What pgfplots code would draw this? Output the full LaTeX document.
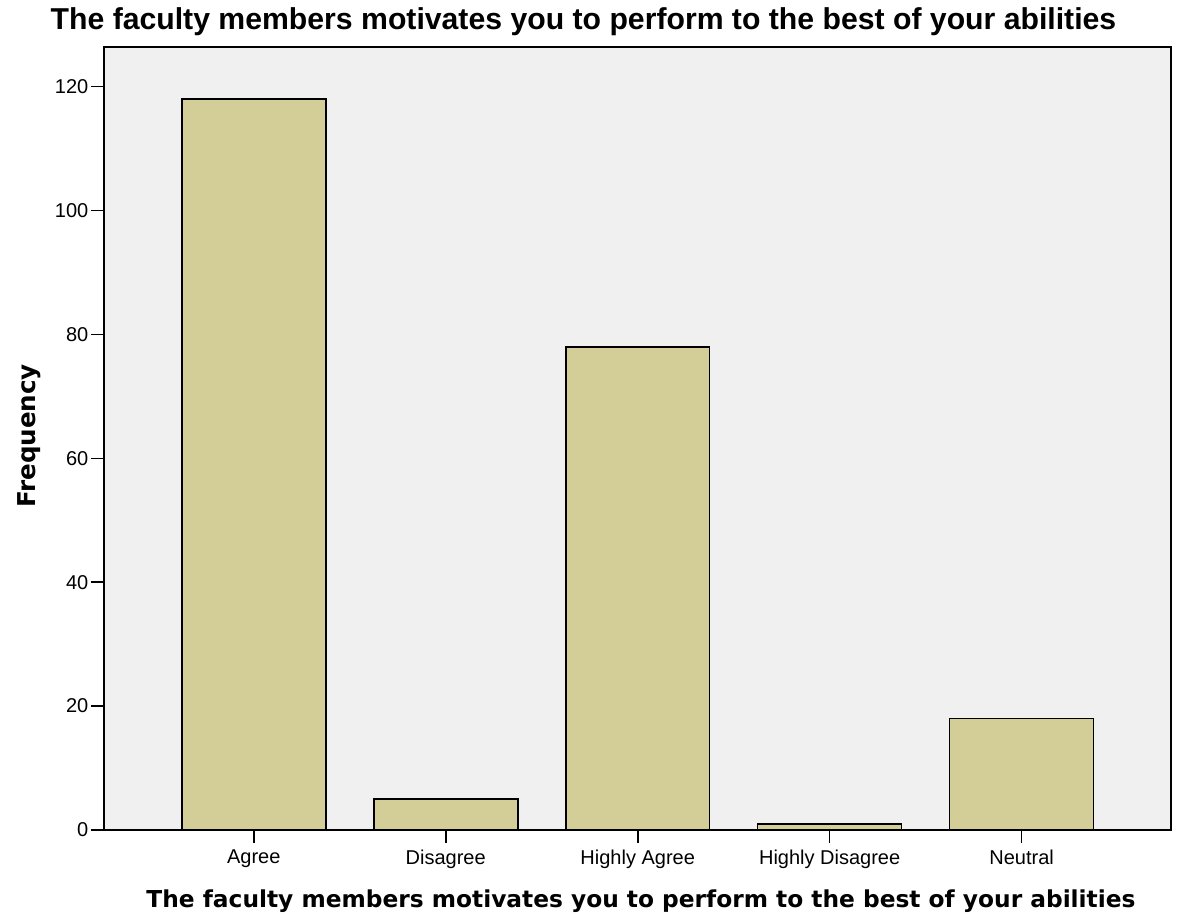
\documentclass[border=0pt]{standalone}
\usepackage{fontspec}
\setmainfont{Liberation Sans}
\newfontfamily\verd{DejaVu Sans}
\usepackage{pgfplots}
\pgfplotsset{compat=1.18}
\definecolor{barfill}{RGB}{211,206,151}
\definecolor{bg}{RGB}{240,240,240}
\begin{document}
\begin{tikzpicture}
\useasboundingbox (0pt,0pt) rectangle (589.5pt,459.5pt);
\begin{axis}[
  at={(52pt,44.5pt)}, anchor=south west,
  scale only axis, width=533.5pt, height=391.5pt,
  xmin=-0.78, xmax=4.778, ymin=0, ymax=126.4,
  xtick={0,1,2,3,4}, xticklabels={Agree,Disagree,Highly Agree,Highly Disagree,Neutral},
  ytick={0,20,...,120},
  tick style={black, line width=0.8pt},
  tick align=outside, major tick length=6.5pt,
  xtick pos=bottom, ytick pos=left,
  axis line style={black, line width=0.8pt},
  axis background/.style={fill=bg},
  ticklabel style={font=\fontsize{10}{12}\selectfont},
  yticklabel style={xshift=2.2pt},
  /pgf/number format/assume math mode=true,
]
\addplot[ybar, bar width=0.75, bar shift=0pt, fill=barfill, draw=black, line width=0.8pt]
  coordinates {(0,118) (1,5) (2,78) (3,1) (4,18)};
\end{axis}
\node[anchor=base, font=\bfseries\fontsize{15.1}{18}\selectfont] at (291.75pt,444.5pt) {The faculty members motivates you to perform to the best of your abilities};
\node[anchor=base, font=\verd\bfseries\fontsize{11.65}{14}\selectfont] at (320.5pt,5.5pt) {The faculty members motivates you to perform to the best of your abilities};
\node[anchor=base, font=\verd\bfseries\fontsize{12.3}{14}\selectfont, rotate=90] at (17.5pt,241.5pt) {Frequency};
\end{tikzpicture}
\end{document}
